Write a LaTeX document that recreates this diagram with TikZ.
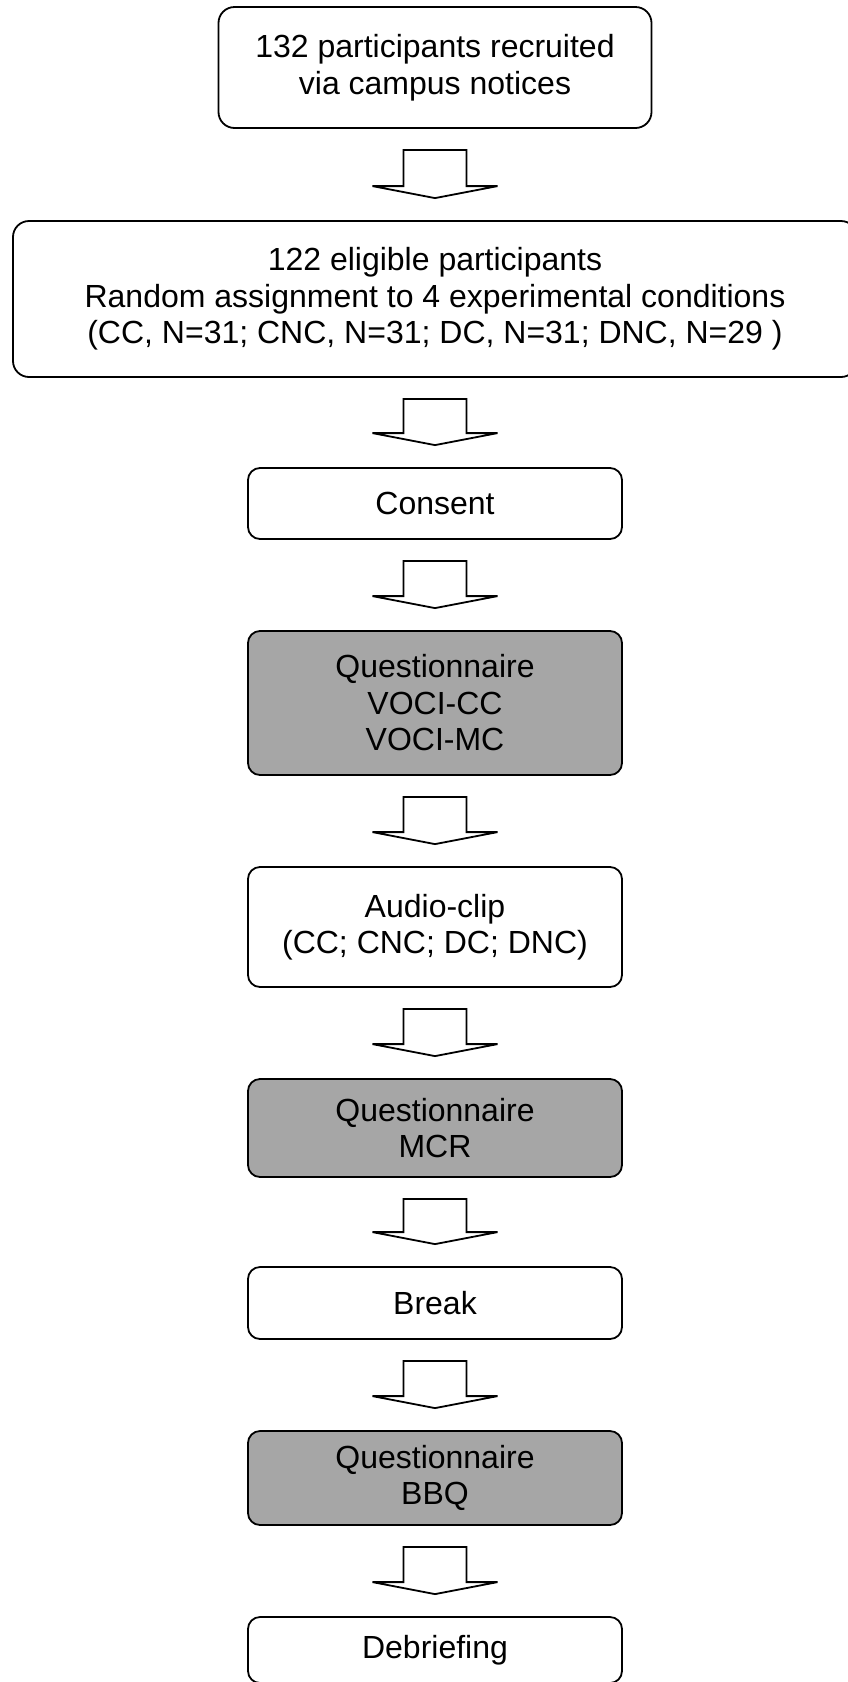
\documentclass[tikz,border=0pt]{standalone}
\usepackage{fontspec}
\setmainfont{Liberation Sans}
\usetikzlibrary{calc}
\tikzset{box/.style={draw, rounded corners=6pt, line width=0.9pt, align=center, inner sep=0pt,
font=\fontsize{16pt}{18.25pt}\selectfont},
grey box/.style={box, fill=black!35},
fat arrow/.style={draw, fill=white, line width=0.9pt, sharp corners,
to path={ let \p1=(\tikztostart.south),\p2=(\tikztotarget.north) in
(\x1-15.75pt,\y1-10.5pt) -- (\x1+15.75pt,\y1-10.5pt) -- (\x1+15.75pt,\y2+17pt) --
(\x1+31.25pt,\y2+17pt) -- (\x1,\y2+11pt) -- (\x1-31.25pt,\y2+17pt) --
(\x1-15.75pt,\y2+17pt) -- cycle}}}
\begin{document}
\begin{tikzpicture}[x=0.5pt,y=0.5pt]
        \useasboundingbox (0,0) rectangle (847,-1682);
        \node[box, rounded corners=8pt, minimum width=216.5pt, minimum height=60.5pt] (0) at (435, -67.5) {132 participants recruited\\via campus notices};
        \node[box, rounded corners=8pt, minimum width=422pt, minimum height=78pt] (1) at (435, -299) {122 eligible participants\\Random assignment to 4 experimental conditions\\(CC, N=31; CNC, N=31; DC, N=31; DNC, N=29 )};
        \node[box, minimum width=187pt, minimum height=35.5pt] (2) at (435, -503.5) {Consent};
        \node[grey box, minimum width=187pt, minimum height=72pt] (3) at (435, -703) {Questionnaire\\VOCI-CC\\VOCI-MC};
        \node[box, minimum width=187pt, minimum height=60pt] (4) at (435, -927) {Audio-clip\\(CC; CNC; DC; DNC)};
        \node[grey box, minimum width=187pt, minimum height=49pt] (5) at (435, -1128) {Questionnaire\\MCR};
        \node[box, minimum width=187pt, minimum height=36pt] (6) at (435, -1303) {Break};
        \node[grey box, minimum width=187pt, minimum height=47pt] (7) at (435, -1478) {Questionnaire\\BBQ};
        \node[box, minimum width=187pt, minimum height=33pt] (8) at (435, -1650) {Debriefing};

        \draw (0) edge[fat arrow] (1)
              (1) edge[fat arrow] (2)
              (2) edge[fat arrow] (3)
              (3) edge[fat arrow] (4)
              (4) edge[fat arrow] (5)
              (5) edge[fat arrow] (6)
              (6) edge[fat arrow] (7)
              (7) edge[fat arrow] (8);
    \end{tikzpicture}
\end{document}
